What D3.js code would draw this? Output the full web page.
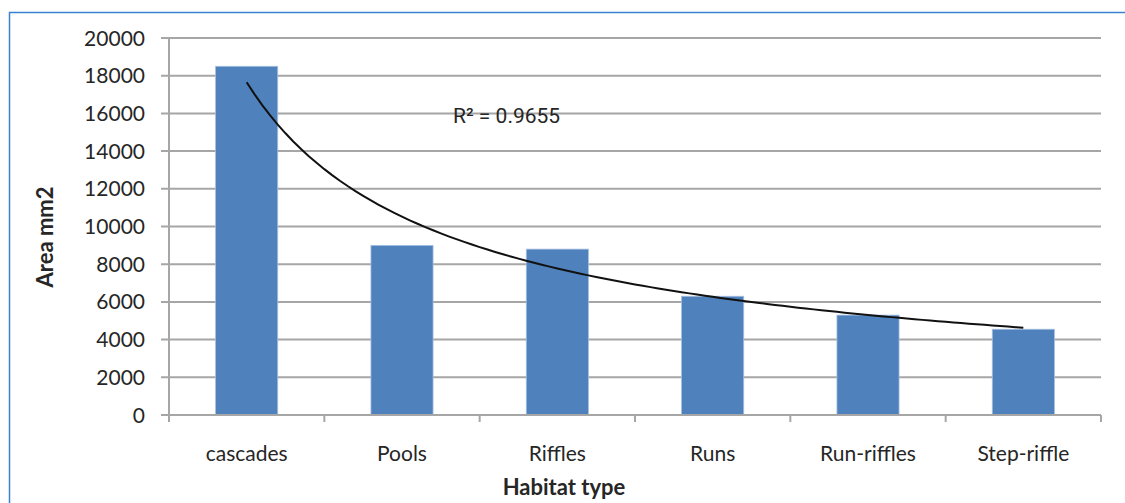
<!DOCTYPE html>
<html>
<head>
<meta charset="utf-8">
<script src="https://cdn.jsdelivr.net/npm/d3@7"></script>
<style>
  html, body { margin: 0; padding: 0; background: #fff; }
  svg { display: block; font-family: Lato, "Open Sans", sans-serif; }
</style>
</head>
<body>
<svg id="chart" width="1125" height="503"></svg>
<script>
// Habitat categories and mean area (mm2)
const categories = ["cascades", "Pools", "Riffles", "Runs", "Run-riffles", "Step-riffle"];
const areaValues = [18500, 9000, 8800, 6300, 5300, 4550];
const yTicks = [0, 2000, 4000, 6000, 8000, 10000, 12000, 14000, 16000, 18000, 20000];
const rSquaredLabel = "R\u00B2 = 0.9655";

const svg = d3.select("#chart");
const W = 1125, H = 503;
const margin = { left: 169, right: 24, top: 38, bottom: 88 };
const plotRight = W - margin.right;
const plotBottom = H - margin.bottom;

// Outer frame
svg.append("path")
  .attr("d", `M9.5,${H} V12.5 H${W}`)
  .attr("fill", "none")
  .attr("stroke", "#3b83cf")
  .attr("stroke-width", 1.5);

const x = d3.scaleBand()
  .domain(categories)
  .range([margin.left, plotRight])
  .paddingInner(0)
  .paddingOuter(0);

const y = d3.scaleLinear()
  .domain([0, 20000])
  .range([plotBottom, margin.top]);

// Horizontal gridlines
svg.append("g")
  .selectAll("line")
  .data(yTicks)
  .join("line")
  .attr("x1", margin.left - 8)
  .attr("x2", plotRight)
  .attr("y1", d => y(d))
  .attr("y2", d => y(d))
  .attr("stroke", "#a6a6a6")
  .attr("stroke-width", 2);

// Y tick labels
svg.append("g")
  .selectAll("text")
  .data(yTicks)
  .join("text")
  .attr("x", margin.left - 24)
  .attr("y", d => y(d))
  .attr("dy", "0.36em")
  .attr("text-anchor", "end")
  .attr("font-size", 21)
  .attr("fill", "#262626")
  .text(d => d);

// Y axis line
svg.append("line")
  .attr("x1", margin.left).attr("x2", margin.left)
  .attr("y1", margin.top).attr("y2", plotBottom + 7)
  .attr("stroke", "#a6a6a6").attr("stroke-width", 2);

// Bars
const barWidth = x.bandwidth() * 0.4;
svg.append("g")
  .selectAll("rect")
  .data(categories)
  .join("rect")
  .attr("x", d => x(d) + (x.bandwidth() - barWidth) / 2)
  .attr("width", barWidth)
  .attr("y", (d, i) => y(areaValues[i]))
  .attr("height", (d, i) => plotBottom - y(areaValues[i]))
  .attr("fill", "#4f81bd")
  .attr("stroke", "#a7c0e0")
  .attr("stroke-width", 0.8);

// X axis with category dividers
svg.append("line")
  .attr("x1", margin.left).attr("x2", plotRight)
  .attr("y1", plotBottom).attr("y2", plotBottom)
  .attr("stroke", "#a6a6a6").attr("stroke-width", 2);
const dividers = categories.map(c => x(c)).concat([plotRight]);
svg.append("g")
  .selectAll("line")
  .data(dividers)
  .join("line")
  .attr("x1", d => d).attr("x2", d => d)
  .attr("y1", plotBottom).attr("y2", plotBottom + 7)
  .attr("stroke", "#a6a6a6").attr("stroke-width", 2);

// Category labels
svg.append("g")
  .selectAll("text")
  .data(categories)
  .join("text")
  .attr("x", d => x(d) + x.bandwidth() / 2)
  .attr("y", plotBottom + 46)
  .attr("text-anchor", "middle")
  .attr("font-size", 21)
  .attr("fill", "#262626")
  .text(d => d);

// Power trendline fitted by least squares on log-log values
const lx = categories.map((c, i) => Math.log(i + 1));
const ly = areaValues.map(v => Math.log(v));
const mx = d3.mean(lx), my = d3.mean(ly);
const b = d3.sum(lx, (v, i) => (v - mx) * (ly[i] - my)) / d3.sum(lx, v => (v - mx) ** 2);
const a = Math.exp(my - b * mx);
const idx = d3.scaleLinear().domain([1, categories.length])
  .range([x(categories[0]) + x.bandwidth() / 2, x(categories[categories.length - 1]) + x.bandwidth() / 2]);
const trendPts = d3.range(1, categories.length + 0.001, 0.05).map(t => [idx(t), y(a * Math.pow(t, b))]);
svg.append("path")
  .attr("d", d3.line().curve(d3.curveLinear)(trendPts))
  .attr("fill", "none")
  .attr("stroke", "#111")
  .attr("stroke-width", 2);

svg.append("text")
  .attr("x", 453)
  .attr("y", 123)
  .attr("font-size", 21)
  .attr("font-family", "Roboto, Lato, sans-serif")
  .attr("fill", "#262626")
  .text(rSquaredLabel);

// Axis titles
svg.append("text")
  .attr("x", 564)
  .attr("y", 495)
  .attr("text-anchor", "middle")
  .attr("font-size", 22)
  .attr("font-weight", "bold")
  .attr("fill", "#262626")
  .text("Habitat type");

svg.append("text")
  .attr("transform", "translate(53,237) rotate(-90)")
  .attr("text-anchor", "middle")
  .attr("font-size", 22)
  .attr("font-weight", "bold")
  .attr("fill", "#262626")
  .text("Area mm2");
</script>
</body>
</html>
